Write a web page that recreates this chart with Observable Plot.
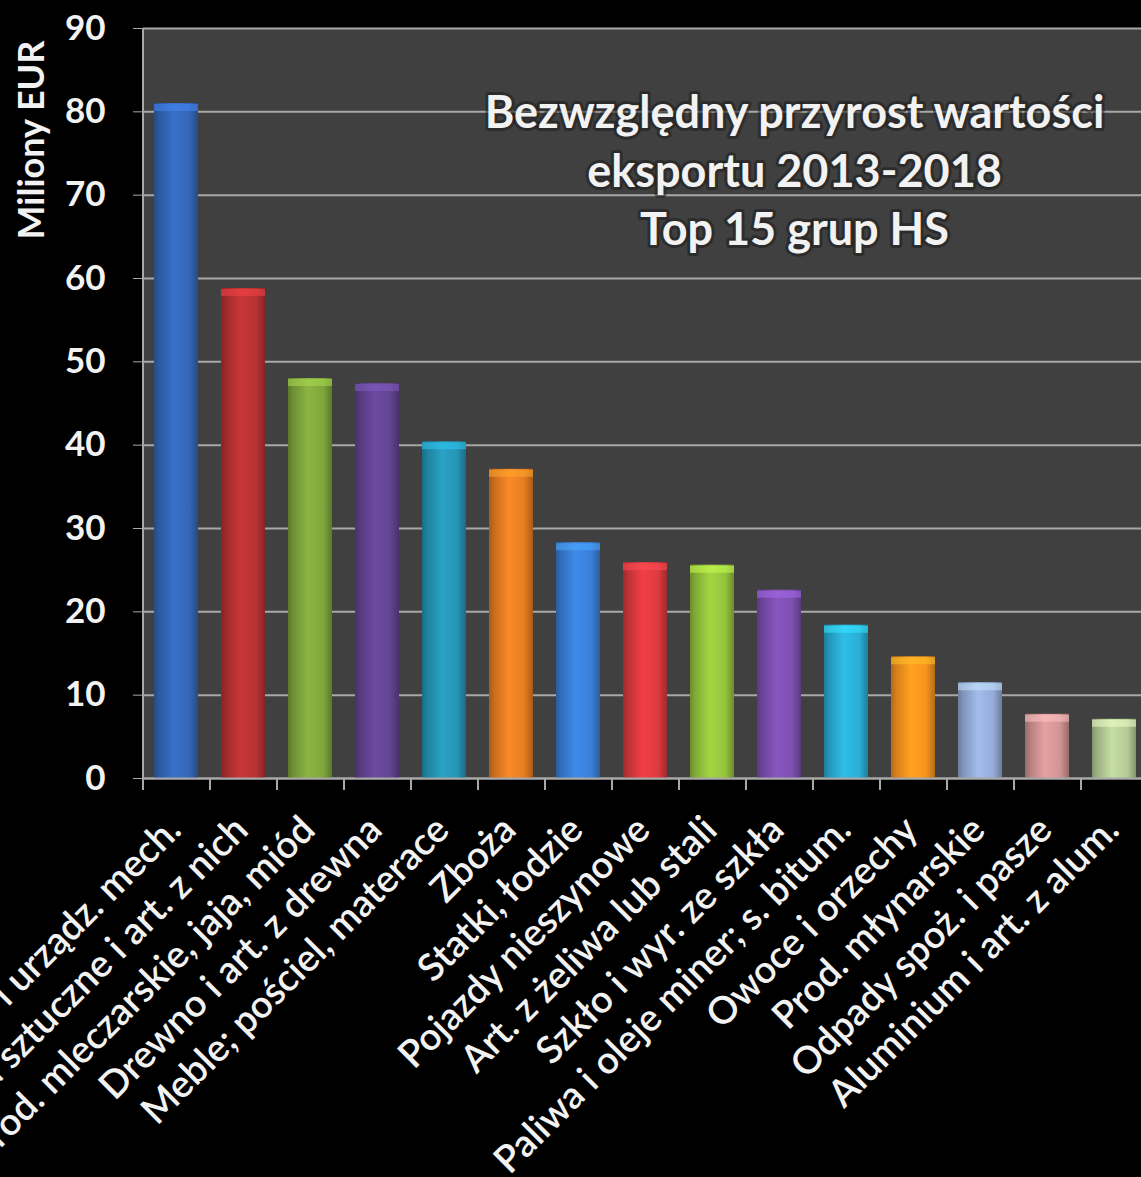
<!DOCTYPE html>
<html><head><meta charset="utf-8">
<script src="https://cdn.jsdelivr.net/npm/d3@7"></script>
<script src="https://cdn.jsdelivr.net/npm/@observablehq/plot@0.6"></script>
<style>html,body{margin:0;padding:0;background:#000;overflow:hidden}</style>
</head><body><div id="chart"></div>
<script>
const categories = [
  "Maszyny i urządz. mech.",
  "Tworzywa sztuczne i art. z nich",
  "Prod. mleczarskie, jaja, miód",
  "Drewno i art. z drewna",
  "Meble; pościel, materace",
  "Zboża",
  "Statki, łodzie",
  "Pojazdy nieszynowe",
  "Art. z żeliwa lub stali",
  "Szkło i wyr. ze szkła",
  "Paliwa i oleje miner; s. bitum.",
  "Owoce i orzechy",
  "Prod. młynarskie",
  "Odpady spoż. i pasze",
  "Aluminium i art. z alum."
];
const values = [81.0, 58.8, 48.0, 47.4, 40.4, 37.1, 28.3, 25.9, 25.6, 22.6, 18.4, 14.6, 11.5, 7.7, 7.1];
const barColors = ["#3467b8","#b83234","#7fa63c","#634592","#2595b5","#e67e22",
                   "#3a7fd6","#dc3a40","#95c43c","#7d4fb0","#2aaed6","#f7931e",
                   "#95acd8","#d29494","#b5cc96"];
const yTicks = [0, 10, 20, 30, 40, 50, 60, 70, 80, 90];
const titleLines = ["Bezwzględny przyrost wartości", "eksportu 2013-2018", "Top 15 grup HS"];
const yLabel = "Miliony EUR";

const data = categories.map((c, i) => ({
  cat: c, value: values[i], grad: `url(#barGrad${i})`,
  cap: d3.color(barColors[i]).brighter(0.8).formatHex()
}));
const xRange = [143, 1148];
const step = (xRange[1] - xRange[0]) / categories.length;
const font = "Lato, 'Open Sans', sans-serif";
const axisGray = "#a8a8a8";

const chart = Plot.plot({
  width: 1141, height: 1177,
  marginLeft: 143, marginRight: 0, marginTop: 28, marginBottom: 399,
  style: {background: "#000", color: "#fff", fontFamily: font},
  x: {domain: categories, range: xRange, paddingInner: 0.34, paddingOuter: 0.17, align: 0.5, axis: null},
  y: {domain: [0, 90], axis: null},
  color: {type: "identity"},
  marks: [
    Plot.frame({fill: "#404040", stroke: null}),
    Plot.gridY(yTicks, {stroke: axisGray, strokeOpacity: 1, strokeWidth: 2}),
    Plot.text([titleLines.join("\n")], {
      frameAnchor: "top", lineAnchor: "top", dx: 152, dy: 58, lineHeight: 1.3,
      fontSize: 45, fontWeight: "bold", fill: "#f2f2f2",
      stroke: "#1c1c1c", strokeWidth: 6, strokeOpacity: 0.55, paintOrder: "stroke"
    }),
    Plot.barY(data, {x: "cat", y: "value", fill: "grad"}),
    Plot.tickY(data, {x: "cat", y: "value", stroke: "cap", strokeWidth: 7, dy: 4, strokeOpacity: 0.55}),
    Plot.ruleY([0], {stroke: axisGray, strokeWidth: 2}),
    Plot.ruleX([categories[0]], {dx: -step / 2, y1: 0, y2: 90, stroke: axisGray, strokeWidth: 2}),
    Plot.ruleX(categories, {dx: -step / 2, y1: 0, y2: 0, insetBottom: -12, stroke: axisGray, strokeWidth: 2}),
    Plot.axisY(yTicks, {
      tickSize: 10, tickPadding: 28, fontSize: 35, fontWeight: "bold",
      stroke: axisGray, fill: "#f2f2f2", label: null, tickFormat: d => String(d)
    }),
    Plot.axisX({
      tickSize: 0, tickRotate: -45, tickPadding: 45, fontSize: 38, fontWeight: "600",
      fill: "#f2f2f2", label: null, dx: -2
    }),
    Plot.text([yLabel], {
      frameAnchor: "top-left", rotate: -90, textAnchor: "end", dx: -125, dy: 12,
      fontSize: 36, fontWeight: "bold", fill: "#f2f2f2"
    })
  ]
});

const svg = d3.select(chart);
const defs = svg.insert("defs", ":first-child");
barColors.forEach((c, i) => {
  const g = defs.append("linearGradient").attr("id", `barGrad${i}`)
    .attr("x1", "0").attr("x2", "1").attr("y1", "0").attr("y2", "0");
  const base = d3.color(c);
  [[0, base.darker(0.9)], [0.12, base.darker(0.4)], [0.45, base.brighter(0.25)],
   [0.8, base], [1, base.darker(0.9)]].forEach(([o, col]) => {
    g.append("stop").attr("offset", o).attr("stop-color", col.formatHex());
  });
});
document.getElementById("chart").appendChild(chart);
</script>
</body></html>
